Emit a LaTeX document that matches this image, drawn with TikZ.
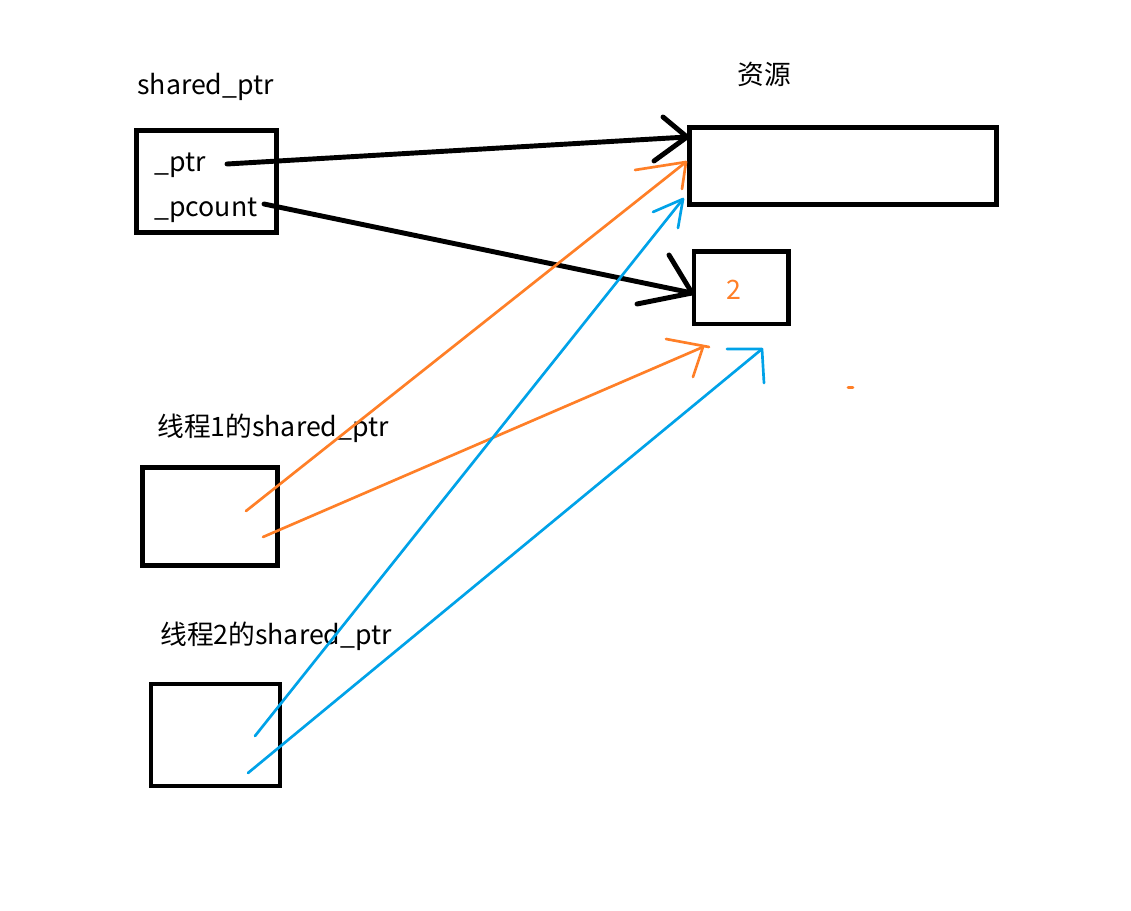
\documentclass[tikz,border=0pt]{standalone}
\usepackage{fontspec}
\setmainfont{Noto Sans CJK SC}
\usepackage{tikz}
\definecolor{paintorange}{HTML}{FF7F27}
\definecolor{paintblue}{HTML}{00A2E8}

\begin{document}
\begin{tikzpicture}[
    x=0.025cm, y=-0.025cm,
    box/.style={draw, line width=3.5pt, inner sep=0pt},
    label/.style={inner sep=0pt, anchor=base west, font=\fontsize{19}{23}\selectfont},
    blk/.style={line width=3.5pt, line cap=round},
    org/.style={paintorange, line width=1.9pt, line cap=round},
    blu/.style={paintblue, line width=1.9pt, line cap=round}
  ]
    \useasboundingbox (0, 0) rectangle (1131, 911);

    % boxes
    \node[box, minimum width=3.5cm, minimum height=2.55cm] (sp) at (206.5, 181.5) {};
    \node[box, minimum width=7.675cm, minimum height=1.925cm] (res) at (843, 166) {};
    \node[box, line width=3.2pt, minimum width=2.3625cm, minimum height=1.8125cm] (cnt) at (741.25, 287.75) {};
    \node[box, minimum width=3.375cm, minimum height=2.45cm] (th1) at (210, 516.5) {};
    \node[box, line width=2.5pt, minimum width=3.225cm, minimum height=2.55cm] (th2) at (215.5, 735) {};

    % texts
    \node[label] (sptitle) at (137, 95) {shared\_ptr};
    \node[label] (restitle) at (737, 85) {资源};
    \node[label] (ptr) at (154, 172) {\_ptr};
    \node[label] (pcount) at (154, 217) {\_pcount};
    \node[label] (th1title) at (157, 437) {线程1的shared\_ptr};
    \node[label] (th2title) at (160, 644) {线程2的shared\_ptr};
    \node[label, text=paintorange] (cntval) at (726, 300) {2};

    % start and end points
    \coordinate (b1s) at (227, 164);
    \coordinate (b1t) at (687, 137);
    \coordinate (b2s) at (264, 204);
    \coordinate (b2t) at (692, 293);
    \coordinate (o1s) at (246, 511);
    \coordinate (o1t) at (686, 162);
    \coordinate (o2s) at (263, 537);
    \coordinate (o2t) at (703, 347);
    \coordinate (u1s) at (255, 736);
    \coordinate (u1t) at (683, 199);
    \coordinate (u2s) at (248, 773);
    \coordinate (u2t) at (762, 349);

    % black arrows
    \draw[blk] (b1s) -- (b1t);
    \draw[blk] (b1t) -- +(-24, -20) (b1t) -- +(-33, 24);
    \draw[blk] (b2s) -- (b2t);
    \draw[blk] (b2t) -- +(-23, -38) (b2t) -- +(-55, 11);

    % orange arrows
    \draw[org] (o1s) -- (o1t);
    \draw[org] (o1t) -- +(-51, 8) (o1t) -- +(-4, 27);
    \draw[org] (o2s) -- (o2t);
    \draw[org] (o2t) +(-37, -8) -- +(6, 0);
    \draw[org] (o2t) -- +(-10, 30);
    \draw[org] (848, 387.5) -- (853, 387.5);

    % blue arrows
    \draw[blu] (u1s) -- (u1t);
    \draw[blu] (u1t) -- +(-30, 13) (u1t) -- +(-5, 29);
    \draw[blu] (u2s) -- (u2t);
    \draw[blu] (u2t) -- +(-35, 0) (u2t) -- +(2, 34);
  \end{tikzpicture}
\end{document}
